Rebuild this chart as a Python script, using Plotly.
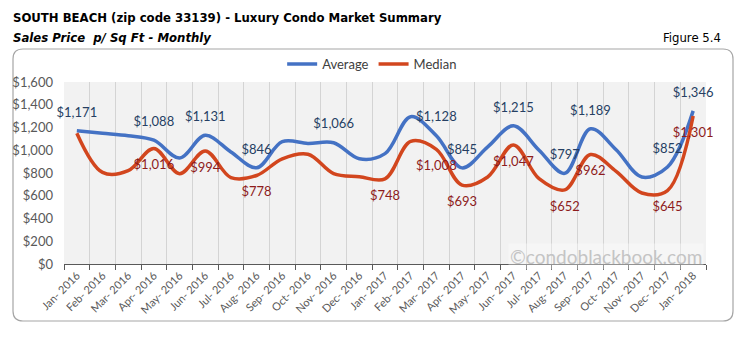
import plotly.graph_objects as go

# ---------------- data ----------------
months = ["Jan- 2016", "Feb- 2016", "Mar- 2016", "Apr- 2016", "May- 2016", "Jun- 2016",
          "Jul- 2016", "Aug- 2016", "Sep- 2016", "Oct- 2016", "Nov- 2016", "Dec- 2016",
          "Jan- 2017", "Feb- 2017", "Mar- 2017", "Apr- 2017", "May- 2017", "Jun- 2017",
          "Jul- 2017", "Aug- 2017", "Sep- 2017", "Oct- 2017", "Nov- 2017", "Dec- 2017",
          "Jan- 2018"]
average = [1171, 1150, 1128, 1088, 932, 1131, 985, 846, 1075, 1060, 1066, 925,
           970, 1295, 1128, 845, 1030, 1215, 1000, 797, 1189, 1005, 765, 852, 1346]
median = [1150, 805, 820, 1016, 794, 994, 760, 778, 925, 965, 795, 768,
          748, 1078, 1008, 693, 765, 1047, 750, 652, 962, 814, 624, 645, 1301]
avg_labeled = [1, 0, 0, 1, 0, 1, 0, 1, 0, 0, 1, 0, 0, 0, 1, 1, 0, 1, 0, 1, 1, 0, 0, 1, 1]
med_labeled = [0, 0, 0, 1, 0, 1, 0, 1, 0, 0, 0, 0, 1, 0, 1, 1, 0, 1, 0, 1, 1, 0, 0, 1, 1]
y_ticks = [0, 200, 400, 600, 800, 1000, 1200, 1400, 1600]

# ---------------- layout helpers ----------------
W, H = 746, 341
L, R, T, B = 64, 40, 82, 77
PW, PH = W - L - R, H - T - B


def px(x):
    return (x - L) / PW


def py(y):
    return (H - B - y) / PH


BLUE = "#4472C4"
RED = "#D2461E"
FONT = "Lato, Calibri, sans-serif"
NARROW = "'DejaVu Sans Condensed', 'Liberation Sans Narrow', 'Arial Narrow', sans-serif"

fig = go.Figure()

fig.add_trace(go.Scatter(x=months, y=average, mode="lines", name="Average",
                         line=dict(color=BLUE, width=3.5, shape="spline", smoothing=1.0)))
fig.add_trace(go.Scatter(x=months, y=median, mode="lines", name="Median",
                         line=dict(color=RED, width=3.5, shape="spline", smoothing=1.0)))

avg_x = [m for m, f in zip(months, avg_labeled) if f]
avg_y = [v for v, f in zip(average, avg_labeled) if f]
med_x = [m for m, f in zip(months, med_labeled) if f]
med_y = [v for v, f in zip(median, med_labeled) if f]

fig.add_trace(go.Scatter(x=avg_x, y=avg_y, mode="markers+text", cliponaxis=False,
                         text=[f"${v:,}" for v in avg_y], textposition="top center",
                         marker=dict(size=16, opacity=0), showlegend=False, hoverinfo="skip",
                         textfont=dict(family=FONT, size=13, color="#263F63")))
fig.add_trace(go.Scatter(x=med_x, y=med_y, mode="markers+text", cliponaxis=False,
                         text=[f"${v:,}" for v in med_y], textposition="bottom center",
                         marker=dict(size=16, opacity=0), showlegend=False, hoverinfo="skip",
                         textfont=dict(family=FONT, size=13, color="#8E1C1C")))

# rounded outer border
x0, x1 = px(13), px(733)
y0, y1 = py(321), py(49)
rx, ry = 10 / PW, 10 / PH
path = (f"M {x0 + rx},{y0} L {x1 - rx},{y0} Q {x1},{y0} {x1},{y0 + ry} "
        f"L {x1},{y1 - ry} Q {x1},{y1} {x1 - rx},{y1} L {x0 + rx},{y1} "
        f"Q {x0},{y1} {x0},{y1 - ry} L {x0},{y0 + ry} Q {x0},{y0} {x0 + rx},{y0} Z")

fig.update_layout(
    width=W, height=H,
    margin=dict(l=L, r=R, t=T, b=B),
    paper_bgcolor="white",
    plot_bgcolor="#F2F2F2",
    font=dict(family=FONT, color="#595959"),
    showlegend=True,
    legend=dict(orientation="h", x=0.48, xanchor="center", y=py(64), yanchor="middle",
                font=dict(family=FONT, size=13, color="#404040"),
                bgcolor="rgba(0,0,0,0)", itemwidth=30, tracegroupgap=0),
    shapes=[dict(type="path", path=path, xref="paper", yref="paper",
                 line=dict(color="#A6A6A6", width=1.2), layer="below")],
    annotations=[
        dict(text="<b>SOUTH BEACH (zip code 33139) - Luxury Condo Market Summary</b>",
             xref="paper", yref="paper", x=px(11), y=py(18), xanchor="left", yanchor="middle",
             showarrow=False, font=dict(family=NARROW, size=13, color="#000000")),
        dict(text="<b><i>Sales Price  p/ Sq Ft - Monthly</i></b>",
             xref="paper", yref="paper", x=px(11), y=py(37), xanchor="left", yanchor="middle",
             showarrow=False, font=dict(family=NARROW, size=13, color="#000000")),
        dict(text="Figure 5.4",
             xref="paper", yref="paper", x=px(723), y=py(37), xanchor="right", yanchor="middle",
             showarrow=False, font=dict(family=NARROW, size=13, color="#000000")),
        dict(text="©condoblackbook.com",
             xref="paper", yref="paper", x=px(704), y=py(256), xanchor="right", yanchor="middle",
             showarrow=False, bgcolor="rgba(255,255,255,0.35)",
             font=dict(family=FONT, size=19, color="#C4C4C4")),
    ],
)

fig.update_xaxes(type="category", range=[-0.5, len(months) - 0.5],
                 tickson="boundaries", ticks="outside", ticklen=5, tickcolor="#595959",
                 showline=True, linecolor="#595959", linewidth=1,
                 showgrid=True, gridcolor="#D4D4D4", gridwidth=1,
                 tickangle=-45, tickfont=dict(family=FONT, size=11, color="#595959"))
fig.update_yaxes(range=[0, 1600], tickvals=y_ticks,
                 ticktext=[f"${v:,}" for v in y_ticks],
                 showgrid=False, zeroline=False, showline=False, ticks="",
                 ticklabelstandoff=10,
                 tickfont=dict(family=FONT, size=13, color="#595959"))

fig.write_html("out.html")
